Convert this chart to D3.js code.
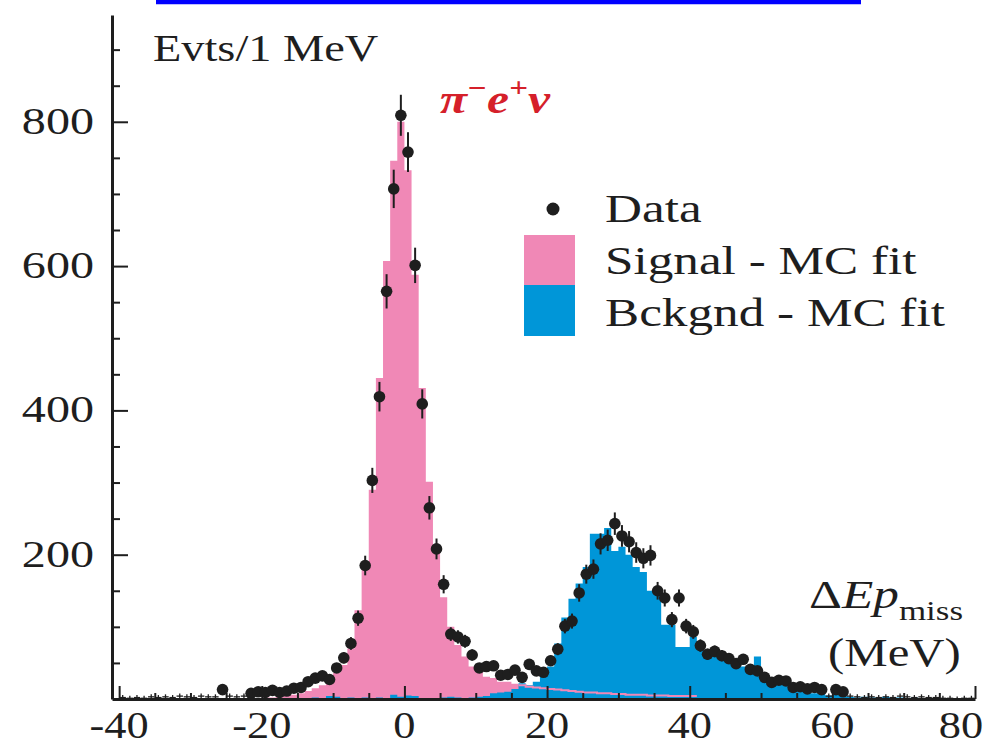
<!DOCTYPE html>
<html><head><meta charset="utf-8">
<script src="https://cdn.jsdelivr.net/npm/d3@7"></script>
<style>body{margin:0;background:#fff}svg{display:block}</style>
</head><body><svg id="c" width="1003" height="749"></svg>
<script>
// ---- data (1 MeV bins; first bin left edge given by *Start) ----
const dataStart = -40;
const dataCounts = [
  2,1,2,1,3,2,3,2,4,3,            // -40 .. -31
  2,4,3,3,13,4,3,4,8,10,          // -30 .. -21
  9,12,9,11,15,16,24,29,32,27,    // -20 .. -11
  43,57,77,112,185,303,419,565,707,809, // -10 .. -1
  758,601,409,265,208,159,90,86,80,61,  // 0 .. 9
  43,45,46,33,34,40,30,48,39,37,  // 10 .. 19
  53,69,101,108,147,173,180,215,220,243, // 20 .. 29
  226,218,203,195,199,150,140,110,140,101, // 30 .. 39
  93,74,62,66,60,56,49,55,41,39,  // 40 .. 49
  30,23,26,25,16,17,14,16,13,4,   // 50 .. 59
  13,10,4,3,2,3,2,3,2,4,          // 60 .. 69
  3,2,3,2,2,1,1,0,1,1             // 70 .. 79
];
const signalStart = -22;
const signalCounts = [
  1,1,2,2,3,4,6,8,11,15,          // -22 .. -13
  19,24,36,47,70,123,189,290,445,607, // -12 .. -3
  746,800,733,588,431,301,205,141,100,75, // -2 .. 7
  59,45,38,31,29,24,24,21,19,17,  // 8 .. 17
  16,15,14,13,12,11,10,9,9,8,     // 18 .. 27
  8,7,7,6,6,6,5,5,5,4,            // 28 .. 37
  4,4,4                           // 38 .. 40
];
const signalLineFrom = 16;
const bkgStart = -14;
const bkgCounts = [
  1,2,1,4,3,1,2,1,2,1,            // -14 .. -5
  2,1,6,3,5,4,1,1,1,2,            // -4 .. 5
  3,2,1,2,3,4,8,9,10,14,          // 6 .. 15
  22,19,24,31,45,77,113,139,160,183, // 16 .. 25
  229,229,237,205,211,200,183,176,150,148, // 26 .. 35
  103,103,72,72,86,80,66,62,55,52, // 36 .. 45
  50,45,43,59,31,28,24,20,17,14,  // 46 .. 55
  10,8,7,5,6,4,3,2,3,2,           // 56 .. 65
  2,3,2,2,1,2,1,1,1               // 66 .. 74
];
const yMajorTicks = [200, 400, 600, 800];
const xMajorTicks = [-40, -20, 0, 20, 40, 60, 80];
const legendLabels = ["Data", "Signal - MC fit", "Bckgnd - MC fit"];

// ---- styles ----
const PINK = "#f088b6", BLUE = "#0096d8", INK = "#1e1e1e", RED = "#d5202a";
const FONT = "Liberation Serif";
const SX = 1.28;

const svg = d3.select("#c");
const x = d3.scaleLinear().domain([-41, 80]).range([112, 975]);
const y = d3.scaleLinear().domain([0, 948]).range([699, 15]);

function bins(start, counts) {
  const pts = counts.map((v, i) => ({e: start + i, v}));
  pts.push({e: start + counts.length, v: counts[counts.length - 1]});
  return pts;
}
const area = d3.area().x(d => x(d.e)).y0(y(0)).y1(d => y(d.v)).curve(d3.curveStepAfter);

// top blue bar
svg.append("line").attr("x1", 156).attr("x2", 861).attr("y1", 2).attr("y2", 2)
  .attr("stroke", "#0000ff").attr("stroke-width", 4.5);

// histograms
svg.append("path").datum(bins(signalStart, signalCounts)).attr("d", area).attr("fill", PINK);
svg.append("path").datum(bins(bkgStart, bkgCounts)).attr("d", area).attr("fill", BLUE);
const tail = bins(signalStart, signalCounts).filter(d => d.e >= signalLineFrom);
svg.append("path").datum(tail)
  .attr("d", d3.line().x(d => x(d.e)).y(d => y(d.v)).curve(d3.curveStepAfter))
  .attr("fill", "none").attr("stroke", PINK).attr("stroke-width", 2);

// axes
function styleAxis(g, w) {
  g.selectAll("path").attr("stroke", INK).attr("stroke-width", w);
  g.selectAll("line").attr("stroke", INK).attr("stroke-width", 2);
}
const minorY = d3.range(50, 948, 50).filter(v => !yMajorTicks.includes(v));
svg.append("g").attr("transform", `translate(${x.range()[0]},0)`)
  .call(d3.axisLeft(y).tickValues(minorY).tickSize(-8).tickSizeOuter(0).tickFormat(""))
  .call(g => styleAxis(g, 3));
svg.append("g").attr("transform", `translate(${x.range()[0]},0)`)
  .call(d3.axisLeft(y).tickValues(yMajorTicks).tickSize(-16).tickSizeOuter(0).tickFormat(""))
  .call(g => { g.select("path").remove(); styleAxis(g, 3); });
const minorX = d3.range(-40, 81, 5).filter(v => !xMajorTicks.includes(v));
svg.append("g").attr("transform", `translate(0,${y(0)})`)
  .call(d3.axisBottom(x).tickValues(minorX).tickSize(-6).tickSizeOuter(0).tickFormat(""))
  .call(g => styleAxis(g, 3));
svg.append("g").attr("transform", `translate(0,${y(0)})`)
  .call(d3.axisBottom(x).tickValues(xMajorTicks).tickSize(-13).tickSizeOuter(0).tickFormat(""))
  .call(g => { g.select("path").remove(); styleAxis(g, 3); });

// text helper (horizontally stretched serif like the original)
function text(xp, yp, size, anchor, sx) {
  return svg.append("text")
    .attr("transform", `translate(${xp},${yp}) scale(${sx || SX},1)`)
    .attr("font-family", FONT).attr("font-size", size)
    .attr("text-anchor", anchor || "start").attr("fill", INK);
}
yMajorTicks.forEach(v => text(94, y(v) + 12, 37, "end", 1.3).text(v));
xMajorTicks.forEach(v => {
  const xp = v === 80 ? x(v) - 14 : x(v);
  text(xp, 738, 37, "middle", 1.2).text(v);
});

// data points
const pts = dataCounts.map((v, i) => ({c: dataStart + i + 0.5, v}));
const gd = svg.append("g").attr("stroke", INK).attr("fill", INK);
pts.forEach(p => {
  const cx = x(p.c), cy = y(p.v);
  const err = Math.sqrt(p.v);
  if (p.v >= 6) {
    gd.append("line").attr("x1", cx).attr("x2", cx).attr("y1", y(p.v + err)).attr("y2", y(p.v - err)).attr("stroke-width", 2);
    gd.append("circle").attr("cx", cx).attr("cy", cy).attr("r", 5.8).attr("stroke", "none");
  } else {
    const e = Math.max(y(p.v - err) - cy, 2.5);
    gd.append("line").attr("x1", cx).attr("x2", cx).attr("y1", cy - e).attr("y2", Math.min(cy + e, y(0))).attr("stroke-width", 1.3);
    gd.append("line").attr("x1", cx - 3.2).attr("x2", cx + 3.2).attr("y1", cy).attr("y2", cy).attr("stroke-width", 1.3);
  }
});

// titles
text(153, 61, 38, "start", 1.22).text("Evts/1 MeV");
const lab = text(440, 113, 42, "start", 1.18).attr("fill", RED).attr("font-style", "italic").attr("font-weight", "bold");
lab.append("tspan").text("π");
lab.append("tspan").attr("font-size", 28).attr("dy", -16).text("−");
lab.append("tspan").attr("dy", 16).text("e");
lab.append("tspan").attr("font-size", 28).attr("dy", -16).text("+");
lab.append("tspan").attr("dy", 16).text("ν");

// legend
svg.append("circle").attr("cx", 553).attr("cy", 209).attr("r", 6.5).attr("fill", INK);
svg.append("rect").attr("x", 524).attr("y", 235).attr("width", 51).attr("height", 50).attr("fill", PINK);
svg.append("rect").attr("x", 524).attr("y", 285).attr("width", 51).attr("height", 51).attr("fill", BLUE);
text(605, 222, 40).text(legendLabels[0]);
text(605, 274, 40).text(legendLabels[1]);
text(605, 326, 40).text(legendLabels[2]);

// axis title
const at = text(809, 608, 41, "start", 1.25);
at.append("tspan").text("Δ");
at.append("tspan").attr("font-style", "italic").text("Ep");
at.append("tspan").attr("font-size", 28).attr("dy", 12).text("miss");
text(828, 666, 40, "start", 1.22).text("(MeV)");
</script></body></html>
